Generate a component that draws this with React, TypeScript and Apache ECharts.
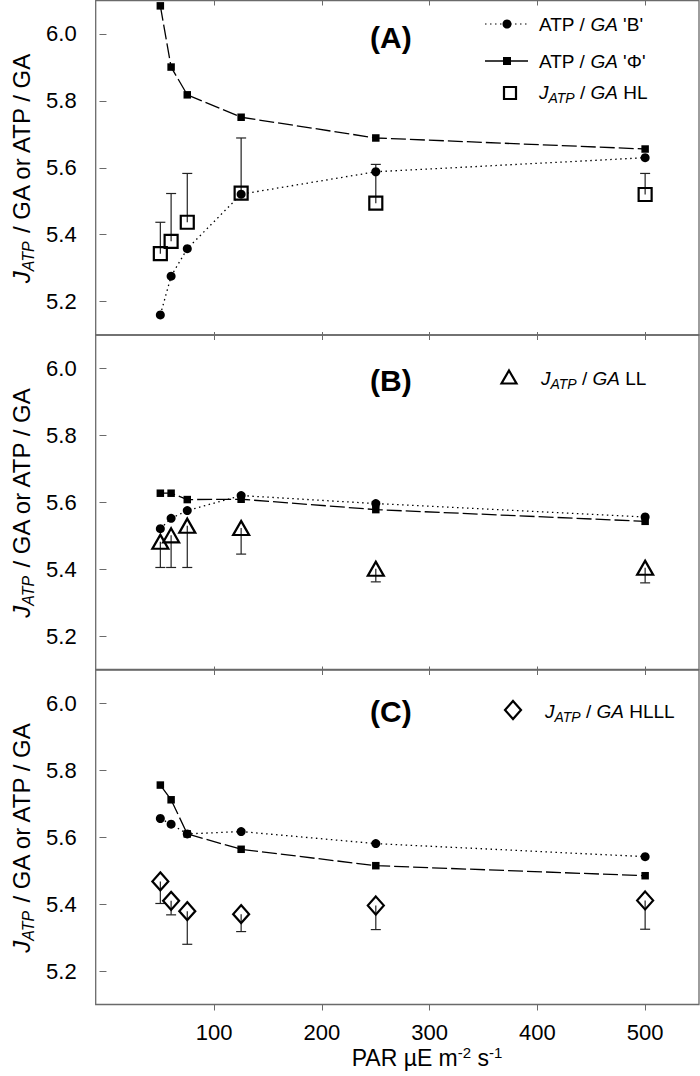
import React, { useEffect, useRef } from "react";
import * as echarts from "echarts";

const par = [50, 60, 75, 125, 250, 500];
const xTickValues = [100, 200, 300, 400, 500];
const yTickValues = [5.2, 5.4, 5.6, 5.8, 6.0];

// Panel A
const aB = [5.16, 5.276, 5.358, 5.521, 5.588, 5.63];
const aPhi = [6.084, 5.901, 5.818, 5.751, 5.689, 5.656];
const aHL = [5.343, 5.38, 5.437, 5.524, 5.494, 5.52];
const aHLErrEnd = [5.437, 5.523, 5.583, 5.689, 5.61, 5.583];

// Panel B
const bB = [5.521, 5.552, 5.575, 5.62, 5.596, 5.556];
const bPhi = [5.627, 5.627, 5.608, 5.609, 5.578, 5.543];
const bLL = [5.482, 5.501, 5.53, 5.523, 5.401, 5.404];
const bLLErrEnd = [5.405, 5.405, 5.405, 5.445, 5.362, 5.359];

// Panel C
const cB = [5.656, 5.639, 5.61, 5.617, 5.581, 5.542];
const cPhi = [5.756, 5.712, 5.61, 5.564, 5.515, 5.485];
const cHLLL = [5.468, 5.41, 5.379, 5.37, 5.396, 5.411];
const cHLLLErrEnd = [5.402, 5.368, 5.28, 5.318, 5.324, 5.325];

const FONT = "'Liberation Sans', Arial, Helvetica, sans-serif";
const INK = "#000";
const FRAME = "#6a6a6a";

const pairs = (ys: number[]) => par.map((x, i) => [x, ys[i]]);
const triples = (ys: number[], ends: number[]) => par.map((x, i) => [x, ys[i], ends[i]]);

const gridTops = [0.5, 335, 670];
const gridH = 334.5;

export default function App() {
  const ref = useRef<HTMLDivElement>(null);
  useEffect(() => {
    if (!ref.current) return;
    const chart = echarts.init(ref.current, null, { renderer: "svg" });

    const grids = gridTops.map((t) => ({
      left: 95.7,
      width: 603.3,
      top: t,
      height: gridH,
      show: true,
      borderColor: FRAME,
      borderWidth: 1.3,
      backgroundColor: "transparent",
      containLabel: false,
    }));

    const xAxes: any[] = [];
    [0, 1, 2].forEach((i) => {
      const last = i === 2;
      xAxes.push({
        gridIndex: i,
        type: "value",
        position: "bottom",
        min: -10,
        max: 550,
        axisLine: { show: false },
        splitLine: { show: false },
        axisTick: {
          show: true,
          inside: !last,
          length: last ? 6 : 3,
          customValues: xTickValues,
          lineStyle: { color: FRAME, width: 1 },
        },
        axisLabel: {
          show: last,
          customValues: xTickValues,
          fontSize: 22,
          fontFamily: FONT,
          color: "#000",
          margin: 17,
        },
      });
      xAxes.push({
        gridIndex: i,
        type: "value",
        position: "top",
        min: -10,
        max: 550,
        axisLine: { show: false },
        splitLine: { show: false },
        axisTick: {
          show: true,
          inside: true,
          length: 5,
          customValues: xTickValues,
          lineStyle: { color: FRAME, width: 1 },
        },
        axisLabel: { show: false },
      });
    });

    const yAxes = [0, 1, 2].map((i) => ({
      gridIndex: i,
      type: "value",
      min: 5.1,
      max: 6.1,
      axisLine: { show: false },
      splitLine: { show: false },
      axisTick: {
        show: true,
        inside: false,
        length: 7,
        customValues: yTickValues,
        lineStyle: { color: FRAME, width: 1 },
      },
      axisLabel: {
        customValues: yTickValues,
        formatter: (v: number) => v.toFixed(1),
        fontSize: 22,
        fontFamily: FONT,
        color: "#000",
        margin: 19,
      },
    }));

    const errRender = (params: any, api: any) => {
      const x = api.value(0);
      const v = api.value(1);
      const e = api.value(2);
      const p1 = api.coord([x, v]);
      const p2 = api.coord([x, e]);
      const st = { stroke: "#222", lineWidth: 1.2 };
      return {
        type: "group",
        children: [
          { type: "line", shape: { x1: p1[0], y1: p1[1], x2: p2[0], y2: p2[1] }, style: st },
          { type: "line", shape: { x1: p2[0] - 5, y1: p2[1], x2: p2[0] + 5, y2: p2[1] }, style: st },
        ],
      };
    };

    const panelSeries = (
      i: number,
      bVals: number[],
      phiVals: number[],
      obsVals: number[],
      errEnds: number[],
      obsSymbol: string,
      obsSize: any,
      obsName: string
    ) => [
      {
        type: "custom",
        name: obsName + " err",
        xAxisIndex: 2 * i,
        yAxisIndex: i,
        renderItem: errRender,
        data: triples(obsVals, errEnds),
        z: 1,
      },
      {
        type: "line",
        name: "ATP / GA 'B'",
        xAxisIndex: 2 * i,
        yAxisIndex: i,
        data: pairs(bVals),
        symbol: "circle",
        symbolSize: 9,
        showSymbol: true,
        itemStyle: { color: INK, opacity: 1 },
        lineStyle: { color: INK, width: 1.3, type: [1.5, 3.5] },
        z: 3,
      },
      {
        type: "line",
        name: "ATP / GA 'Φ'",
        xAxisIndex: 2 * i,
        yAxisIndex: i,
        data: pairs(phiVals),
        symbol: "rect",
        symbolSize: 7.5,
        showSymbol: true,
        itemStyle: { color: INK, opacity: 1 },
        lineStyle: { color: INK, width: 1.3, type: [15, 4] },
        z: 3,
      },
      {
        type: "scatter",
        name: obsName,
        xAxisIndex: 2 * i,
        yAxisIndex: i,
        data: pairs(obsVals),
        symbol: obsSymbol,
        symbolSize: obsSize,
        itemStyle: { color: "none", borderColor: INK, borderWidth: 2.2, opacity: 1 },
        z: 4,
      },
    ];

    const series = [
      ...panelSeries(0, aB, aPhi, aHL, aHLErrEnd, "rect", 13, "JATP / GA HL"),
      ...panelSeries(1, bB, bPhi, bLL, bLLErrEnd, "triangle", [16, 14], "JATP / GA LL"),
      ...panelSeries(2, cB, cPhi, cHLLL, cHLLLErrEnd, "diamond", [16, 18], "JATP / GA HLLL"),
    ];

    const legRich = {
      n: { fontSize: 19, fontFamily: FONT, fill: "#000", lineHeight: 26 },
      i: { fontSize: 19, fontFamily: FONT, fontStyle: "italic", fill: "#000", lineHeight: 26 },
      sub: {
        fontSize: 14,
        fontFamily: FONT,
        fontStyle: "italic",
        fill: "#000",
        lineHeight: 14,
        verticalAlign: "bottom",
      },
    };

    const yRich = {
      n: { fontSize: 24, fontFamily: FONT, fill: "#000", lineHeight: 30 },
      i: { fontSize: 24, fontFamily: FONT, fontStyle: "italic", fill: "#000", lineHeight: 30 },
      sub: {
        fontSize: 16,
        fontFamily: FONT,
        fontStyle: "italic",
        fill: "#000",
        lineHeight: 16,
        verticalAlign: "bottom",
      },
    };

    const graphics: any[] = [];
    // y titles
    gridTops.forEach((t) => {
      graphics.push({
        type: "text",
        x: 21,
        y: t + gridH / 2,
        rotation: Math.PI / 2,
        style: {
          text: "{i|J}{sub|ATP}{n| / GA or ATP / GA}",
          rich: yRich,
          align: "center",
          verticalAlign: "middle",
        },
      });
    });
    // panel labels
    [
      ["(A)", 37],
      ["(B)", 380],
      ["(C)", 711],
    ].forEach(([s, y]) => {
      graphics.push({
        type: "text",
        x: 370,
        y: y as number,
        style: {
          text: s as string,
          fontSize: 30,
          fontWeight: "bold",
          fontFamily: FONT,
          fill: "#000",
          align: "left",
          verticalAlign: "middle",
        },
      });
    });
    // legend A
    graphics.push(
      { type: "line", shape: { x1: 485, y1: 24, x2: 528, y2: 24 }, style: { stroke: INK, lineWidth: 1.2, lineDash: [1.5, 3.5] } },
      { type: "circle", shape: { cx: 507, cy: 24, r: 4.5 }, style: { fill: INK } },
      {
        type: "text",
        x: 539,
        y: 24,
        style: { text: "{n|ATP / }{i|GA}{n| 'B'}", rich: legRich, align: "left", verticalAlign: "middle" },
      },
      { type: "line", shape: { x1: 485, y1: 61, x2: 528, y2: 61 }, style: { stroke: INK, lineWidth: 1.3 } },
      { type: "rect", shape: { x: 503, y: 57, width: 8, height: 8 }, style: { fill: INK } },
      {
        type: "text",
        x: 539,
        y: 61,
        style: { text: "{n|ATP / }{i|GA}{n| 'Φ'}", rich: legRich, align: "left", verticalAlign: "middle" },
      },
      { type: "rect", shape: { x: 504, y: 87, width: 12, height: 12 }, style: { fill: "none", stroke: INK, lineWidth: 2.2 } },
      {
        type: "text",
        x: 539,
        y: 92,
        style: { text: "{i|J}{sub|ATP}{n| / }{i|GA}{n| HL}", rich: legRich, align: "left", verticalAlign: "middle" },
      }
    );
    // legend B
    graphics.push(
      {
        type: "polygon",
        shape: { points: [[509, 370.5], [516.5, 383.5], [501.5, 383.5]] },
        style: { fill: "none", stroke: INK, lineWidth: 2.2 },
      },
      {
        type: "text",
        x: 541,
        y: 378,
        style: { text: "{i|J}{sub|ATP}{n| / }{i|GA}{n| LL}", rich: legRich, align: "left", verticalAlign: "middle" },
      }
    );
    // legend C
    graphics.push(
      {
        type: "polygon",
        shape: { points: [[513, 701], [521, 710], [513, 719], [505, 710]] },
        style: { fill: "none", stroke: INK, lineWidth: 2.2 },
      },
      {
        type: "text",
        x: 545,
        y: 711,
        style: { text: "{i|J}{sub|ATP}{n| / }{i|GA}{n| HLLL}", rich: legRich, align: "left", verticalAlign: "middle" },
      }
    );
    // x axis title
    graphics.push({
      type: "text",
      x: 427,
      y: 1058,
      style: {
        text: "{n|PAR µE m}{sup|-2}{n| s}{sup|-1}",
        rich: {
          n: { fontSize: 23, fontFamily: FONT, fill: "#000", lineHeight: 26 },
          sup: { fontSize: 15, fontFamily: FONT, fill: "#000", lineHeight: 14, verticalAlign: "top" },
        },
        align: "center",
        verticalAlign: "middle",
      },
    });

    chart.setOption({
      animation: false,
      backgroundColor: "#fff",
      grid: grids,
      xAxis: xAxes,
      yAxis: yAxes,
      series,
      graphic: graphics,
    });
    return () => chart.dispose();
  }, []);

  return (
    <div
      ref={ref}
      style={{ position: "absolute", left: 0, top: 0, width: 700, height: 1076 }}
    />
  );
}
